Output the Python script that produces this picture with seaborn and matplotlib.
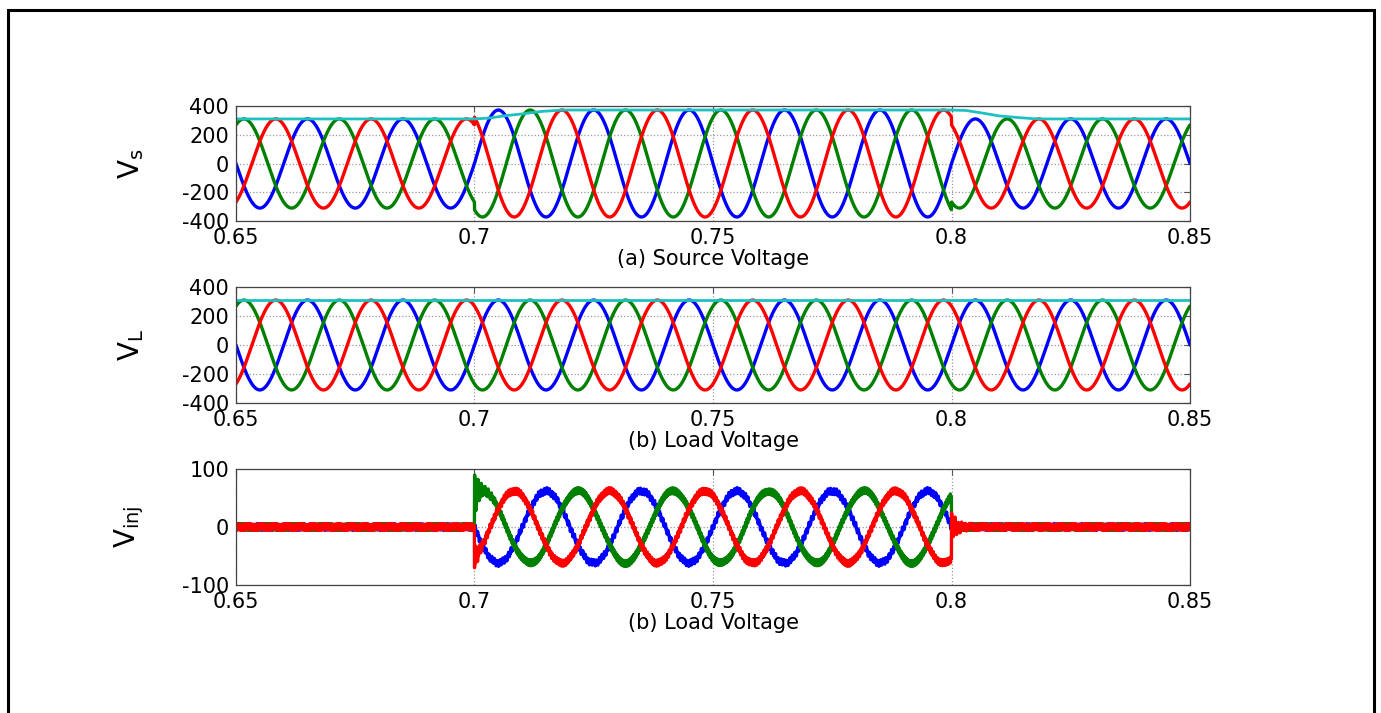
import numpy as np
import pandas as pd
import matplotlib
matplotlib.use('Agg')
import matplotlib.pyplot as plt
import seaborn as sns
from matplotlib.patches import Rectangle

# time window and grid
T_START, T_END = 0.65, 0.85
F_GRID = 50            # Hz
FS = 50000             # samples per second
EVENT_T = [0.70, 0.80]  # swell starts / ends

# three phases
PHASES = ['a', 'b', 'c']
PHASE_DEG = [0, -120, 120]
PHASE_COLORS = ['#0000ff', '#008000', '#ff0000']
ENV_COLOR = '#1fc0c0'

# peak values (before / during / after the swell)
SOURCE_PEAK = [310, 372, 310]
LOAD_PEAK = [310, 310, 310]

# magnitude traces (cyan)
SRC_ENV_T = [0.65, 0.700, 0.703, 0.7066, 0.710, 0.714, 0.7185, 0.800, 0.803, 0.8065, 0.810, 0.8135, 0.817, 0.8185, 0.85]
SRC_ENV_V = [310, 310, 316, 333, 345, 362, 372, 372, 369, 351, 331, 321, 312, 310, 310]
LOAD_ENV_T = [0.65, 0.85]
LOAD_ENV_V = [312, 312]

# switching transients on the injected voltage, per phase
SPIKE_START = [0, 34, -18]
SPIKE_END = [3, -5, 22]
SPIKE_DECAY = 0.0012
SPIKE_RING_HZ = 1400
RIPPLE_AMP = [6, 6, 6]
RIPPLE_HZ = [1730, 2910, 4370]

XTICKS = [0.65, 0.7, 0.75, 0.8, 0.85]
XTICK_LABELS = ['0.65', '0.7', '0.75', '0.8', '0.85']


def build_waves():
    t = np.arange(int(round((T_END - T_START) * FS)) + 1) / FS + T_START
    seg = np.searchsorted(EVENT_T, t, side='right')
    src_amp = np.array(SOURCE_PEAK)[seg]
    load_amp = np.array(LOAD_PEAK)[seg]
    rows_s, rows_l, rows_i = [], [], []
    for k, ph in enumerate(PHASES):
        theta = 2 * np.pi * F_GRID * t + np.deg2rad(PHASE_DEG[k])
        vs = src_amp * np.sin(theta)
        vl = load_amp * np.sin(theta)
        vi = vl - vs
        for te, spike in zip(EVENT_T, [SPIKE_START[k], SPIKE_END[k]]):
            d = t - te
            m = d >= 0
            vi[m] += spike * np.exp(-d[m] / SPIKE_DECAY) * np.cos(2 * np.pi * SPIKE_RING_HZ * d[m])
        vi += RIPPLE_AMP[k] * (0.6 * np.sin(2 * np.pi * RIPPLE_HZ[k] * t)
                               + 0.4 * np.sin(2 * np.pi * RIPPLE_HZ[(k + 1) % 3] * 1.37 * t + k))
        rows_s.append(pd.DataFrame({'t': t, 'v': vs, 'phase': ph}))
        rows_l.append(pd.DataFrame({'t': t, 'v': vl, 'phase': ph}))
        rows_i.append(pd.DataFrame({'t': t, 'v': vi, 'phase': ph}))
    return pd.concat(rows_s), pd.concat(rows_l), pd.concat(rows_i)


def style_axes(ax, ylim, yticks, ylabel, xlabel):
    ax.set_xlim(T_START, T_END)
    ax.set_ylim(*ylim)
    ax.set_xticks(XTICKS)
    ax.set_xticklabels(XTICK_LABELS)
    ax.set_yticks(yticks)
    ax.set_yticklabels([str(v) for v in yticks])
    ax.grid(True, linestyle=':', color='#9a9a9a', linewidth=0.9)
    ax.tick_params(direction='in', top=True, right=True, length=4, width=0.8,
                   color='#555555', labelsize=15, labelcolor='black', pad=5)
    for s in ax.spines.values():
        s.set_color('#444444')
        s.set_linewidth(0.9)
    ax.set_ylabel(ylabel, fontsize=20, color='black')
    ax.yaxis.set_label_coords(-0.094, 0.5)
    ax.set_xlabel(xlabel, fontsize=15, labelpad=1, color='black')


sns.set_theme(style='white')
plt.rcParams['font.family'] = ['DejaVu Sans']
plt.rcParams['text.color'] = 'black'
plt.rcParams['axes.axisbelow'] = True

vs, vl, vi = build_waves()
palette = dict(zip(PHASES, PHASE_COLORS))

fig = plt.figure(figsize=(13.81, 7.13), dpi=100)
left, width = 236 / 1381, 954 / 1381
ax1 = fig.add_axes([left, 1 - 221 / 713, width, 115 / 713])
ax2 = fig.add_axes([left, 1 - 403 / 713, width, 116 / 713])
ax3 = fig.add_axes([left, 1 - 585 / 713, width, 116 / 713])

sns.lineplot(data=vs, x='t', y='v', hue='phase', palette=palette, estimator=None,
             sort=False, legend=False, linewidth=2.4, ax=ax1)
sns.lineplot(x=SRC_ENV_T, y=SRC_ENV_V, color=ENV_COLOR, linewidth=2.0, ax=ax1)
style_axes(ax1, (-400, 400), [-400, -200, 0, 200, 400], r'$\mathregular{V_s}$', '(a) Source Voltage')

sns.lineplot(data=vl, x='t', y='v', hue='phase', palette=palette, estimator=None,
             sort=False, legend=False, linewidth=2.4, ax=ax2)
sns.lineplot(x=LOAD_ENV_T, y=LOAD_ENV_V, color=ENV_COLOR, linewidth=2.0, ax=ax2)
style_axes(ax2, (-400, 400), [-400, -200, 0, 200, 400], r'$\mathregular{V_L}$', '(b) Load Voltage')

sns.lineplot(data=vi, x='t', y='v', hue='phase', palette=palette, estimator=None,
             sort=False, legend=False, linewidth=2.4, ax=ax3)
style_axes(ax3, (-100, 100), [-100, 0, 100], r'$\mathregular{V_{inj}}$', '(b) Load Voltage')

# outer frame of the picture
fig.add_artist(Rectangle((8 / 1381, -0.05), (1374 - 8) / 1381, 1.05 - 10 / 713,
                         transform=fig.transFigure, fill=False, lw=2.2, ec='black'))

fig.savefig('out.png', dpi=100)
